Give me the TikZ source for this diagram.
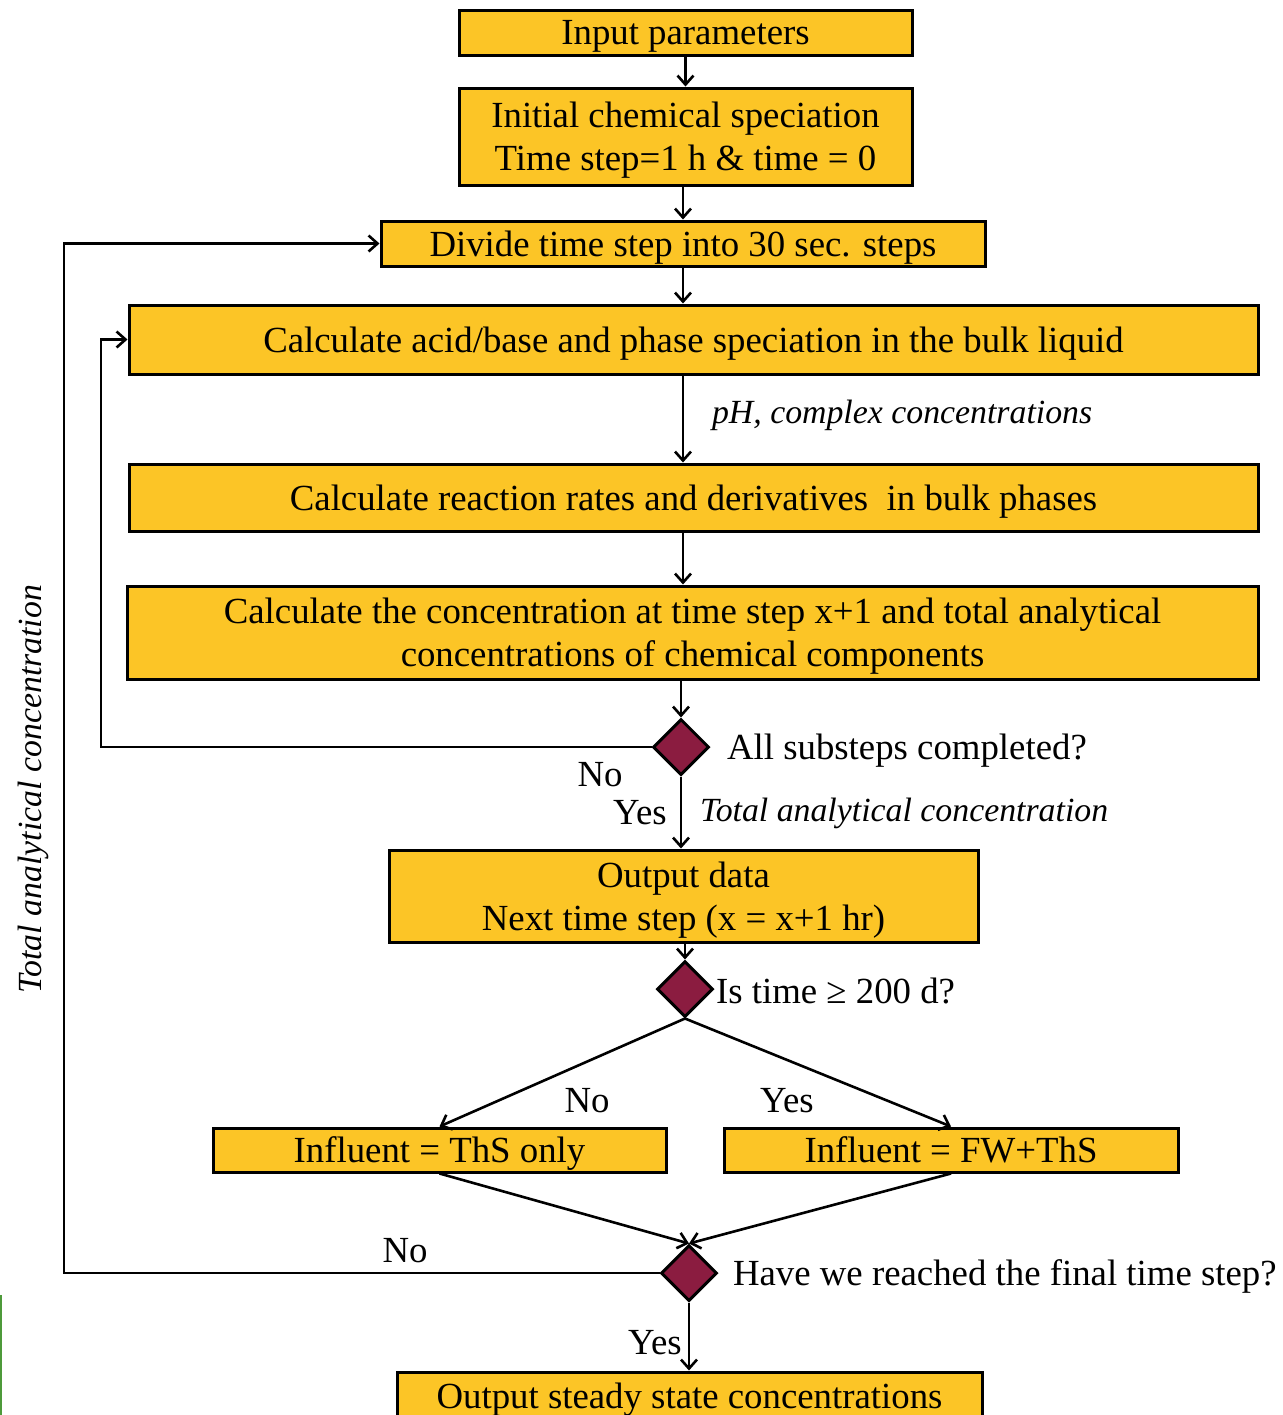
\documentclass[tikz,border=0pt]{standalone}
\usepackage{fontspec}
\setmainfont{Liberation Serif}
\usepackage{tikz}
\usetikzlibrary{positioning,shapes.geometric,arrows.meta}
\definecolor{boxyellow}{HTML}{FCC526}
\definecolor{wine}{HTML}{8B1C40}
\definecolor{edgegreen}{HTML}{4E9A3A}

\begin{document}
\begin{tikzpicture}[x=0.5pt,y=-0.5pt,
    font=\fontsize{18.4}{21.5}\selectfont,
    box/.style={draw,line width=1.5pt,fill=boxyellow,inner sep=0pt,text depth=0pt,align=center},
    decision/.style={diamond,draw,line width=1.5pt,fill=wine,inner sep=0pt,minimum width=28pt,minimum height=28pt},
    note/.style={font=\fontsize{16.9}{20}\selectfont\itshape},
    arr/.style={line width=1.3pt,-{Straight Barb[length=4.5pt,width=8pt]}}]
      \useasboundingbox (0,0) rectangle (1283,1415);
      \node[box,minimum width=226.5pt,minimum height=22.5pt](input) at (685.5,32.5){Input parameters};
      \node[box,minimum width=226.5pt,minimum height=48.5pt](init) at (685.5,136.5){Initial chemical speciation\\Time step=1 h \& time = 0};
      \node[box,minimum width=302pt,minimum height=22.5pt](divide) at (683,243.5){Divide time step into 30 sec. steps};
      \node[box,minimum width=564.5pt,minimum height=34.5pt](bulk) at (693.5,339.5){Calculate acid/base and phase speciation in the bulk liquid};
      \node[box,minimum width=564.5pt,minimum height=33.5pt](rates) at (693.5,497.5){Calculate reaction rates and derivatives\enspace in bulk phases};
      \node[box,minimum width=565.5pt,minimum height=46.5pt](conc) at (692.5,632.5){Calculate the concentration at time step x+1 and total analytical\\concentrations of chemical components};
      \node[decision](sub) at (681,747){};
      \node[box,minimum width=294.5pt,minimum height=46pt](out) at (683.5,896){Output data\\Next time step (x = x+1 hr)};
      \node[decision](time) at (685,989){};
      \node[box,minimum width=226.5pt,minimum height=22pt](ths) at (439.5,1150){Influent = ThS only};
      \node[box,minimum width=227pt,minimum height=22pt](fw) at (951,1150){Influent = FW+ThS};
      \node[decision](final) at (689,1273){};
      \node[box,minimum width=292.5pt,minimum height=24pt](steady) at (689.5,1396){Output steady state concentrations};

      % questions and labels
      \node[anchor=west](subq) at (720,751){All substeps completed?};
      \node[anchor=west](timeq) at (709,991){Is time ≥ 200 d?};
      \node[anchor=west](finalq) at (726,1276){Have we reached the final time step?};
      \node[anchor=west,note](ph) at (705,415){pH, complex concentrations};
      \node[anchor=west,note](tac) at (693,813){Total analytical concentration};
      \node[rotate=90,note](side) at (33,789){Total analytical concentration};
      \node(no1) at (600,775){No};
      \node(yes1) at (640,813){Yes};
      \node(no2) at (587,1101){No};
      \node(yes2) at (787,1101){Yes};
      \node(no3) at (405,1251){No};
      \node(yes3) at (655,1343){Yes};

      % main column
      \draw[arr] (input.south) -- (input.south |- init.north);
      \draw[arr] (divide.north |- init.south) -- (divide.north);
      \draw[arr] (divide.south) -- (divide.south |- bulk.north);
      \draw[arr] (divide.south |- bulk.south) -- (divide.south |- rates.north);
      \draw[arr] (divide.south |- rates.south) -- (divide.south |- conc.north);
      \draw[arr] (sub.north |- conc.south) -- (sub.north);
      \draw[arr] (sub.south) -- (sub.south |- out.north);
      \draw[arr] (time.north |- out.south) -- (time.north);
      \draw[arr] (time.south) -- (ths.north);
      \draw[arr] (time.south) -- (fw.north);
      \draw[arr] (ths.south) -- (final.north);
      \draw[arr] (fw.south) -- (final.north);
      \draw[arr] (final.south) -- (final.south |- steady.north);

      % loops back
      \draw[arr] (sub.west) -- (101,747) |- (bulk.west);
      \draw[arr] (final.west) -- (64,1273) |- (divide.west);

      \draw[edgegreen,line width=0.8pt] (1,1295) -- (1,1415);
    \end{tikzpicture}
\end{document}
